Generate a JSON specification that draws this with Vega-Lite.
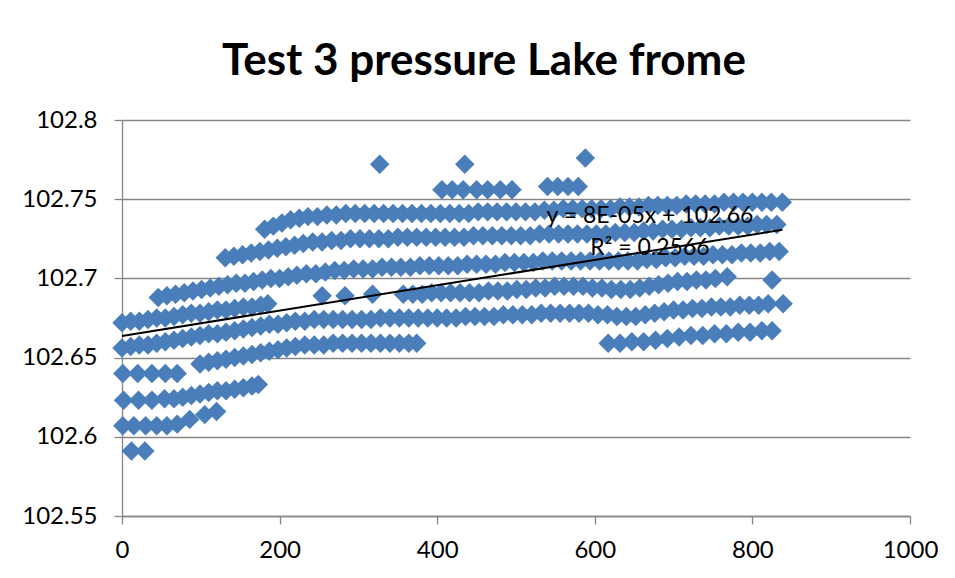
{
  "$schema": "https://vega.github.io/schema/vega-lite/v6.json",
  "width": 788,
  "height": 396,
  "autosize": {"type": "none"},
  "padding": {"left": 122, "top": 120, "right": 45, "bottom": 62},
  "background": "white",
  "title": {
    "text": "Test 3 pressure Lake frome",
    "font": "Lato",
    "fontSize": 44,
    "fontWeight": "bold",
    "color": "black",
    "anchor": "middle",
    "frame": "group",
    "baseline": "alphabetic",
    "offset": -11,
    "dx": -32
  },
  "config": {
    "view": {"stroke": null},
    "axis": {
      "labelFont": "Lato",
      "labelFontSize": 24,
      "labelColor": "black",
      "domainColor": "#868686",
      "tickColor": "#868686",
      "gridColor": "#868686",
      "domainWidth": 1.3,
      "tickWidth": 1.3,
      "gridWidth": 1.3,
      "tickSize": 8,
      "title": null
    }
  },
  "datasets": {
    "pts": [
      {"t":12,"p":102.591},{"t":29,"p":102.591},
      {"t":1,"p":102.607},{"t":15,"p":102.607},{"t":30,"p":102.607},{"t":44,"p":102.607},{"t":57,"p":102.607},{"t":70,"p":102.608},{"t":86,"p":102.611},{"t":105,"p":102.614},{"t":120,"p":102.616},
      {"t":2,"p":102.623},{"t":21,"p":102.623},{"t":38,"p":102.623},{"t":54,"p":102.624},{"t":66,"p":102.624},{"t":77,"p":102.625},{"t":88,"p":102.626},{"t":99,"p":102.627},{"t":110,"p":102.628},{"t":121,"p":102.629},{"t":132,"p":102.629},{"t":143,"p":102.63},{"t":154,"p":102.631},{"t":165,"p":102.632},{"t":173,"p":102.633},
      {"t":1,"p":102.64},{"t":20,"p":102.64},{"t":38,"p":102.64},{"t":55,"p":102.64},{"t":70,"p":102.64},
      {"t":99,"p":102.646},{"t":110,"p":102.647},{"t":121,"p":102.648},{"t":132,"p":102.649},{"t":143,"p":102.65},{"t":154,"p":102.651},{"t":165,"p":102.652},{"t":176,"p":102.653},{"t":187,"p":102.654},{"t":198,"p":102.655},{"t":209,"p":102.656},{"t":220,"p":102.657},{"t":232,"p":102.658},{"t":244,"p":102.658},{"t":256,"p":102.658},{"t":268,"p":102.659},{"t":280,"p":102.659},{"t":292,"p":102.659},{"t":304,"p":102.659},{"t":316,"p":102.659},{"t":328,"p":102.659},{"t":340,"p":102.659},{"t":352,"p":102.659},{"t":364,"p":102.659},{"t":374,"p":102.659},
      {"t":617,"p":102.659},{"t":632,"p":102.659},{"t":647,"p":102.66},{"t":662,"p":102.66},{"t":677,"p":102.661},{"t":692,"p":102.662},{"t":707,"p":102.663},{"t":722,"p":102.664},{"t":737,"p":102.664},{"t":752,"p":102.665},{"t":767,"p":102.665},{"t":782,"p":102.666},{"t":797,"p":102.666},{"t":812,"p":102.667},{"t":825,"p":102.667},
      {"t":0,"p":102.656},{"t":11,"p":102.657},{"t":22,"p":102.658},{"t":33,"p":102.658},{"t":44,"p":102.659},{"t":55,"p":102.66},{"t":66,"p":102.661},{"t":77,"p":102.662},{"t":88,"p":102.663},{"t":99,"p":102.664},{"t":110,"p":102.665},{"t":121,"p":102.665},{"t":132,"p":102.666},{"t":143,"p":102.667},{"t":154,"p":102.668},{"t":165,"p":102.669},{"t":176,"p":102.67},{"t":187,"p":102.671},{"t":198,"p":102.671},{"t":209,"p":102.672},{"t":220,"p":102.673},{"t":232,"p":102.673},{"t":244,"p":102.674},{"t":256,"p":102.674},{"t":268,"p":102.674},{"t":280,"p":102.674},{"t":292,"p":102.674},{"t":304,"p":102.674},{"t":316,"p":102.674},{"t":328,"p":102.675},{"t":340,"p":102.675},{"t":352,"p":102.675},{"t":364,"p":102.675},{"t":376,"p":102.675},{"t":388,"p":102.675},{"t":400,"p":102.675},{"t":412,"p":102.675},{"t":424,"p":102.675},{"t":436,"p":102.676},{"t":448,"p":102.676},{"t":460,"p":102.676},{"t":472,"p":102.676},{"t":484,"p":102.677},{"t":496,"p":102.677},{"t":508,"p":102.677},{"t":520,"p":102.677},{"t":532,"p":102.678},{"t":544,"p":102.678},{"t":556,"p":102.678},{"t":568,"p":102.678},{"t":580,"p":102.678},{"t":592,"p":102.678},{"t":604,"p":102.677},{"t":616,"p":102.677},{"t":628,"p":102.676},{"t":640,"p":102.676},{"t":652,"p":102.676},{"t":664,"p":102.677},{"t":676,"p":102.678},{"t":688,"p":102.679},{"t":700,"p":102.68},{"t":712,"p":102.68},{"t":724,"p":102.681},{"t":736,"p":102.681},{"t":748,"p":102.682},{"t":760,"p":102.682},{"t":772,"p":102.682},{"t":784,"p":102.683},{"t":796,"p":102.683},{"t":808,"p":102.683},{"t":820,"p":102.684},{"t":839,"p":102.684},
      {"t":0,"p":102.672},{"t":11,"p":102.673},{"t":22,"p":102.673},{"t":33,"p":102.674},{"t":44,"p":102.675},{"t":55,"p":102.675},{"t":66,"p":102.676},{"t":77,"p":102.677},{"t":88,"p":102.678},{"t":99,"p":102.678},{"t":110,"p":102.679},{"t":121,"p":102.68},{"t":132,"p":102.68},{"t":143,"p":102.681},{"t":154,"p":102.682},{"t":165,"p":102.682},{"t":176,"p":102.683},{"t":185,"p":102.684},
      {"t":254,"p":102.689},{"t":283,"p":102.689},{"t":318,"p":102.69},
      {"t":357,"p":102.69},{"t":369,"p":102.69},{"t":381,"p":102.69},{"t":393,"p":102.691},{"t":405,"p":102.691},{"t":417,"p":102.691},{"t":429,"p":102.691},{"t":441,"p":102.691},{"t":453,"p":102.691},{"t":465,"p":102.692},{"t":477,"p":102.692},{"t":489,"p":102.692},{"t":501,"p":102.693},{"t":513,"p":102.693},{"t":525,"p":102.694},{"t":537,"p":102.694},{"t":549,"p":102.695},{"t":561,"p":102.695},{"t":573,"p":102.695},{"t":585,"p":102.695},{"t":597,"p":102.694},{"t":609,"p":102.694},{"t":621,"p":102.693},{"t":633,"p":102.693},{"t":645,"p":102.693},{"t":657,"p":102.694},{"t":669,"p":102.695},{"t":681,"p":102.696},{"t":693,"p":102.697},{"t":705,"p":102.698},{"t":717,"p":102.698},{"t":729,"p":102.699},{"t":741,"p":102.699},{"t":753,"p":102.7},{"t":768,"p":102.701},{"t":825,"p":102.699},
      {"t":46,"p":102.688},{"t":57,"p":102.689},{"t":68,"p":102.69},{"t":79,"p":102.691},{"t":90,"p":102.692},{"t":101,"p":102.693},{"t":112,"p":102.694},{"t":123,"p":102.695},{"t":134,"p":102.696},{"t":145,"p":102.697},{"t":156,"p":102.697},{"t":167,"p":102.698},{"t":178,"p":102.699},{"t":189,"p":102.7},{"t":200,"p":102.7},{"t":211,"p":102.701},{"t":222,"p":102.702},{"t":234,"p":102.703},{"t":246,"p":102.703},{"t":258,"p":102.704},{"t":270,"p":102.705},{"t":282,"p":102.705},{"t":294,"p":102.706},{"t":306,"p":102.706},{"t":318,"p":102.706},{"t":330,"p":102.707},{"t":342,"p":102.707},{"t":354,"p":102.707},{"t":366,"p":102.707},{"t":378,"p":102.708},{"t":390,"p":102.708},{"t":402,"p":102.708},{"t":414,"p":102.708},{"t":426,"p":102.708},{"t":438,"p":102.709},{"t":450,"p":102.709},{"t":462,"p":102.709},{"t":474,"p":102.709},{"t":486,"p":102.71},{"t":498,"p":102.71},{"t":510,"p":102.71},{"t":522,"p":102.71},{"t":534,"p":102.711},{"t":546,"p":102.711},{"t":558,"p":102.711},{"t":570,"p":102.711},{"t":582,"p":102.711},{"t":594,"p":102.711},{"t":606,"p":102.711},{"t":618,"p":102.711},{"t":630,"p":102.711},{"t":642,"p":102.711},{"t":654,"p":102.711},{"t":666,"p":102.712},{"t":678,"p":102.712},{"t":690,"p":102.713},{"t":702,"p":102.713},{"t":714,"p":102.714},{"t":726,"p":102.714},{"t":738,"p":102.714},{"t":750,"p":102.715},{"t":762,"p":102.715},{"t":774,"p":102.715},{"t":786,"p":102.716},{"t":798,"p":102.716},{"t":810,"p":102.716},{"t":822,"p":102.717},{"t":834,"p":102.717},
      {"t":131,"p":102.713},{"t":142,"p":102.714},{"t":153,"p":102.715},{"t":164,"p":102.716},{"t":175,"p":102.717},{"t":186,"p":102.718},{"t":197,"p":102.719},{"t":208,"p":102.72},{"t":219,"p":102.721},{"t":230,"p":102.722},{"t":242,"p":102.723},{"t":254,"p":102.723},{"t":266,"p":102.724},{"t":278,"p":102.724},{"t":290,"p":102.725},{"t":302,"p":102.725},{"t":314,"p":102.725},{"t":326,"p":102.725},{"t":338,"p":102.725},{"t":350,"p":102.726},{"t":362,"p":102.726},{"t":374,"p":102.726},{"t":386,"p":102.726},{"t":398,"p":102.726},{"t":410,"p":102.726},{"t":422,"p":102.726},{"t":434,"p":102.726},{"t":446,"p":102.727},{"t":458,"p":102.727},{"t":470,"p":102.727},{"t":482,"p":102.727},{"t":494,"p":102.727},{"t":506,"p":102.727},{"t":518,"p":102.727},{"t":530,"p":102.728},{"t":542,"p":102.728},{"t":554,"p":102.728},{"t":566,"p":102.728},{"t":578,"p":102.728},{"t":590,"p":102.728},{"t":602,"p":102.728},{"t":614,"p":102.728},{"t":626,"p":102.729},{"t":638,"p":102.729},{"t":650,"p":102.729},{"t":662,"p":102.73},{"t":674,"p":102.73},{"t":686,"p":102.731},{"t":698,"p":102.731},{"t":710,"p":102.731},{"t":722,"p":102.732},{"t":734,"p":102.732},{"t":746,"p":102.732},{"t":758,"p":102.733},{"t":770,"p":102.733},{"t":782,"p":102.733},{"t":794,"p":102.733},{"t":806,"p":102.734},{"t":818,"p":102.734},{"t":831,"p":102.734},
      {"t":181,"p":102.731},{"t":192,"p":102.733},{"t":203,"p":102.735},{"t":214,"p":102.737},{"t":225,"p":102.738},{"t":236,"p":102.739},{"t":248,"p":102.739},{"t":260,"p":102.74},{"t":272,"p":102.74},{"t":284,"p":102.741},{"t":296,"p":102.741},{"t":308,"p":102.741},{"t":320,"p":102.741},{"t":332,"p":102.741},{"t":344,"p":102.741},{"t":356,"p":102.741},{"t":368,"p":102.741},{"t":380,"p":102.741},{"t":392,"p":102.741},{"t":404,"p":102.741},{"t":416,"p":102.741},{"t":428,"p":102.741},{"t":440,"p":102.741},{"t":452,"p":102.742},{"t":464,"p":102.742},{"t":476,"p":102.742},{"t":488,"p":102.742},{"t":500,"p":102.742},{"t":512,"p":102.742},{"t":524,"p":102.742},{"t":536,"p":102.743},{"t":548,"p":102.743},{"t":560,"p":102.744},{"t":572,"p":102.744},{"t":584,"p":102.744},{"t":596,"p":102.744},{"t":608,"p":102.744},{"t":620,"p":102.744},{"t":632,"p":102.745},{"t":644,"p":102.745},{"t":656,"p":102.745},{"t":668,"p":102.746},{"t":680,"p":102.746},{"t":692,"p":102.746},{"t":704,"p":102.746},{"t":716,"p":102.747},{"t":728,"p":102.747},{"t":740,"p":102.747},{"t":752,"p":102.747},{"t":764,"p":102.748},{"t":776,"p":102.748},{"t":788,"p":102.748},{"t":800,"p":102.748},{"t":812,"p":102.748},{"t":824,"p":102.748},{"t":838,"p":102.748},
      {"t":406,"p":102.756},{"t":419,"p":102.756},{"t":433,"p":102.756},{"t":450,"p":102.756},{"t":464,"p":102.756},{"t":480,"p":102.756},{"t":495,"p":102.756},
      {"t":540,"p":102.758},{"t":553,"p":102.758},{"t":566,"p":102.758},{"t":579,"p":102.758},
      {"t":327,"p":102.772},{"t":435,"p":102.772},{"t":588,"p":102.776}
    ],
    "trend": [
      {"t":0,"p":102.6637},
      {"t":838,"p":102.7307}
    ],
    "eq": [
      {"t":670,"p":102.7394,"label":"y = 8E-05x + 102.66"},
      {"t":670,"p":102.7192,"label":"R² = 0.2566"}
    ]
  },
  "encoding": {
    "x": {
      "field": "t",
      "type": "quantitative",
      "scale": {"domain": [0, 1000], "nice": false},
      "axis": {"values": [0, 200, 400, 600, 800, 1000], "grid": false, "format": "d", "labelPadding": 14, "labelFlush": false}
    },
    "y": {
      "field": "p",
      "type": "quantitative",
      "scale": {"domain": [102.55, 102.8], "nice": false, "zero": false},
      "axis": {"values": [102.55, 102.6, 102.65, 102.7, 102.75, 102.8], "grid": true, "format": ".2~f", "labelPadding": 17, "labelFlush": false}
    }
  },
  "layer": [
    {
      "data": {"name": "pts"},
      "mark": {"type": "point", "shape": "diamond", "filled": true, "color": "#4A7EBB", "opacity": 1, "size": 380}
    },
    {
      "data": {"name": "trend"},
      "mark": {"type": "line", "color": "black", "strokeWidth": 2}
    },
    {
      "data": {"name": "eq"},
      "mark": {"type": "text", "font": "Lato", "fontSize": 23, "color": "black", "align": "center", "baseline": "middle"},
      "encoding": {"text": {"field": "label", "type": "nominal"}}
    }
  ]
}
